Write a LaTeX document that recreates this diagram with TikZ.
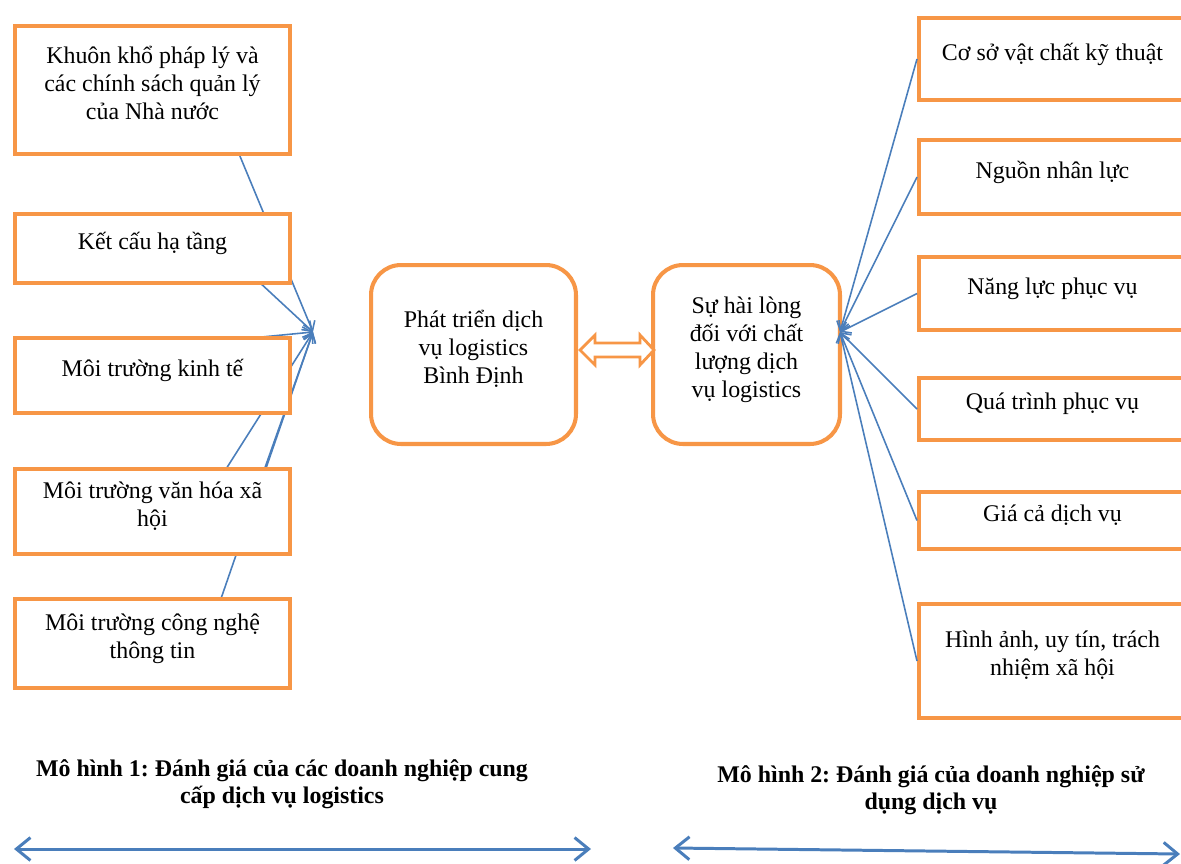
\documentclass[tikz,border=0pt]{standalone}
\usepackage{fontspec}
\setmainfont{Liberation Serif}
\usetikzlibrary{arrows.meta,backgrounds}
\definecolor{boxorange}{RGB}{247,150,70}
\definecolor{lineblue}{RGB}{74,126,187}
\frenchspacing
\begin{document}
\begin{tikzpicture}[x=0.02cm,y=-0.02cm,
  box/.style={draw=boxorange, line width=2.3pt, fill=white, rectangle, align=center,
    text depth=0.3cm, font=\fontsize{13.6}{15.9}\selectfont},
  roundbox/.style={box, rounded corners=0.6cm},
  link/.style={draw=lineblue, line width=0.9pt, -{Straight Barb[length=5pt,width=7pt]}},
  bigarrow/.style={draw=lineblue, line width=1.7pt,
    {Straight Barb[length=8pt,width=13pt]}-{Straight Barb[length=8pt,width=13pt]}},
  caption/.style={align=center, font=\fontsize{13.6}{15.3}\selectfont\bfseries}]
\useasboundingbox (0,0) rectangle (1181,863);
\clip (0,0) rectangle (1181,863);

% left: yeu to cua mo hinh 1
\node[box, minimum width=5.5cm, minimum height=2.56cm] (k1) at (152.5,90) {Khuôn khổ pháp lý và\\các chính sách quản lý\\của Nhà nước};
\node[box, minimum width=5.5cm, minimum height=1.38cm] (k2) at (152.5,248.5) {Kết cấu hạ tầng};
\node[box, minimum width=5.5cm, minimum height=1.5cm] (k3) at (152.5,375.5) {Môi trường kinh tế};
\node[box, minimum width=5.5cm, minimum height=1.7cm] (k4) at (152.5,511.5) {Môi trường văn hóa xã\\hội};
\node[box, minimum width=5.5cm, minimum height=1.78cm] (k5) at (152.5,643.5) {Môi trường công nghệ\\thông tin};

% center
\node[roundbox, minimum width=4.1cm, minimum height=3.58cm] (px) at (473.5,354.5) {Phát triển dịch\\vụ logistics\\Bình Định};
\node[roundbox, minimum width=3.74cm, minimum height=3.58cm] (hl) at (746.5,354.5) {Sự hài lòng\\đối với chất\\lượng dịch\\vụ logistics};

% right: yeu to cua mo hinh 2
\node[box, minimum width=5.34cm, minimum height=1.64cm] (r1) at (1052.5,59) {Cơ sở vật chất kỹ thuật};
\node[box, minimum width=5.34cm, minimum height=1.48cm] (r2) at (1052.5,177) {Nguồn nhân lực};
\node[box, minimum width=5.34cm, minimum height=1.46cm] (r3) at (1052.5,293.5) {Năng lực phục vụ};
\node[box, minimum width=5.34cm, minimum height=1.24cm] (r4) at (1052.5,409) {Quá trình phục vụ};
\node[box, minimum width=5.34cm, minimum height=1.14cm] (r5) at (1052.5,520.5) {Giá cả dịch vụ};
\node[box, minimum width=5.34cm, minimum height=2.28cm] (r6) at (1052.5,661) {Hình ảnh, uy tín, trách\\nhiệm xã hội};

\coordinate (c1) at (313,332);
\coordinate (c2) at (840,332);

\begin{scope}[on background layer]
\draw[link] ([shift={(60,0)}]k1.center) -- (c1);
\draw[link] ([shift={(77.5,6.5)}]k2.center) -- (c1);
\draw[link] ([shift={(47.5,-32.5)}]k3.center) -- (c1);
\draw[link] ([shift={(47.5,-1.5)}]k4.center) -- (c1);
\draw[link] ([shift={(97.5,-1.5)}]k4.center) -- (c1);
\draw[link] ([shift={(52.5,1.5)}]k5.center) -- (c1);
\end{scope}

\foreach \r in {r1,r2,r3,r4,r5,r6}
  \draw[link] (\r.west) -- (c2);

% mui ten hai chieu giua hai khoi
\draw[draw=boxorange, line width=1.6pt, fill=white]
  ([shift={(2,-4.5)}]px.east) -- ++(15,-15) -- ++(0,8) -- ++(45,0) -- ++(0,-8)
  -- ++(14,15) -- ++(-14,15) -- ++(0,-8) -- ++(-45,0) -- ++(0,8) -- cycle;

\node[caption] (m1) at (282,784) {Mô hình 1: Đánh giá của các doanh nghiệp cung\\cấp dịch vụ logistics};
\node[caption] (m2) at (931,790) {Mô hình 2: Đánh giá của doanh nghiệp sử\\dụng dịch vụ};

\coordinate (a1) at (14,849);
\coordinate (a2) at (591,849);
\coordinate (b1) at (673,848);
\coordinate (b2) at (1180,854);
\draw[bigarrow] (a1) -- (a2);
\draw[bigarrow] (b1) -- (b2);
\end{tikzpicture}
\end{document}
